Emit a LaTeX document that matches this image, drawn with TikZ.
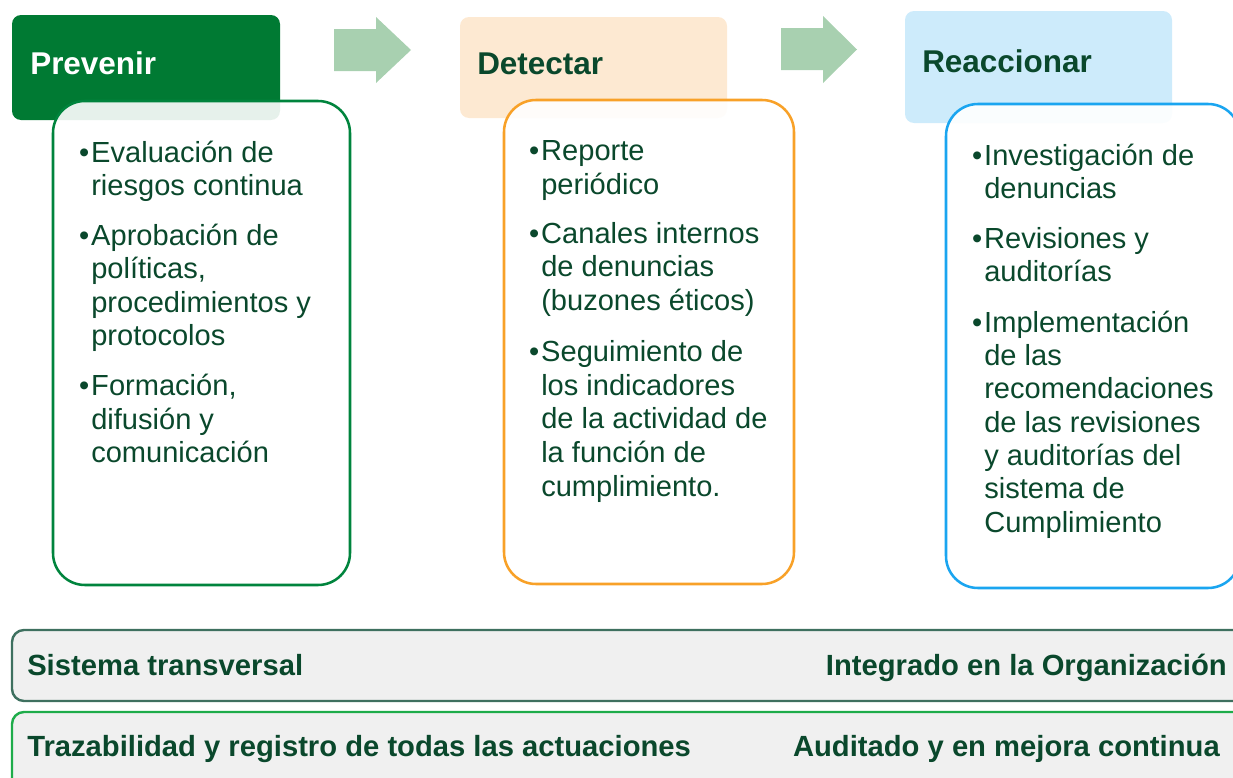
\documentclass[tikz,border=0pt]{standalone}
\usepackage{fontspec}
\setmainfont{Liberation Sans}
\definecolor{hgreen}{RGB}{0,122,51}
\definecolor{bgreen}{RGB}{0,132,61}
\definecolor{arrowc}{RGB}{168,208,176}
\definecolor{peach}{RGB}{253,233,210}
\definecolor{orangeb}{RGB}{248,161,40}
\definecolor{lblue}{RGB}{205,235,251}
\definecolor{blueb}{RGB}{26,165,240}
\definecolor{txt}{RGB}{10,72,44}
\definecolor{bar1b}{RGB}{62,112,95}
\definecolor{bar2b}{RGB}{30,172,74}
\definecolor{barfill}{RGB}{240,240,240}
\begin{document}
\begin{tikzpicture}[x=0.75pt,y=-0.75pt,
  hdr/.style={rectangle,rounded corners=6.75pt,inner sep=0pt,draw=none},
  cbox/.style={rectangle,rounded corners=24pt,inner sep=0pt,line width=1.9pt,fill=white,fill opacity=0.9,minimum height=363pt},
  bar/.style={rectangle,rounded corners=9pt,inner sep=0pt,line width=1.8pt,fill=barfill,minimum width=928.5pt},
  title/.style={anchor=base west,inner sep=0pt,font=\fontsize{23.6pt}{28pt}\selectfont\bfseries},
  item/.style={anchor=base west,inner sep=0pt,align=left,text=txt,font=\fontsize{21.8pt}{25pt}\selectfont},
  itemd/.style={item,font=\fontsize{21.8pt}{25.2pt}\selectfont},
  bartext/.style={anchor=base west,inner sep=0pt,text=txt,font=\fontsize{21.9pt}{26pt}\selectfont\bfseries},
  blockarrow/.style={fill=arrowc,draw=none}]
\useasboundingbox (0,0) rectangle (1233,778);
\clip (0,0) rectangle (1233,778);

% headers
\node[hdr,fill=hgreen,minimum width=201pt,minimum height=78.75pt] (h1) at (146,67.5) {};
\node[hdr,fill=peach,minimum width=200.25pt,minimum height=75.75pt] (h2) at (593.5,67.5) {};
\node[hdr,fill=lblue,minimum width=200.25pt,minimum height=84pt] (h3) at (1038.5,67) {};

\node[title,text=white] (t1) at (30,74) {Prevenir};
\node[title,text=txt] (t2) at (477,74) {Detectar};
\node[title,text=txt] (t3) at (922,72) {Reaccionar};

% arrows
\fill[blockarrow] (334,29) -- (376,29) -- (376,17) -- (411,50) -- (376,83) -- (376,71) -- (334,71) -- cycle;
\fill[blockarrow] (781,28) -- (823,28) -- (823,16) -- (857,49.5) -- (823,83) -- (823,70) -- (781,70) -- cycle;

% content boxes
\node[cbox,draw=bgreen,minimum width=222.75pt] (b1) at (201.5,343) {};
\node[cbox,draw=orangeb,minimum width=217.5pt] (b2) at (649,342) {};
\node[cbox,draw=blueb,minimum width=220.5pt] (b3) at (1093,346) {};

\newcommand{\bul}{\llap{\textbullet\hspace{1.5pt}}}
% Prevenir items (placed at the baseline of their last line)
\node[item] (p1) at (91,195.5) {\bul Evaluación de\\riesgos continua};
\node[item] (p2) at (91,345.5) {\bul Aprobación de\\políticas,\\procedimientos y\\protocolos};
\node[item] (p3) at (91,462.5) {\bul Formación,\\difusión y\\comunicación};

% Detectar items
\node[itemd] (d1) at (541,194.5) {\bul Reporte\\periódico};
\node[itemd] (d2) at (541,310.5) {\bul Canales internos\\de denuncias\\(buzones éticos)};
\node[itemd] (d3) at (541,496) {\bul Seguimiento de\\los indicadores\\de la actividad de\\la función de\\cumplimiento.};

% Reaccionar items
\node[item] (r1) at (984,198.5) {\bul Investigación de\\denuncias};
\node[item] (r2) at (984,281.5) {\bul Revisiones y\\auditorías};
\node[item] (r3) at (984,532) {\bul Implementación\\de las\\recomendaciones\\de las revisiones\\y auditorías del\\sistema de\\Cumplimiento};

% bottom bars
\node[bar,draw=bar1b,minimum height=53.25pt] (bar1) at (631,665.5) {};
\node[bar,draw=bar2b,minimum height=58.5pt] (bar2) at (631,751) {};

\node[bartext] (s1) at (27,675) {Sistema transversal};
\node[bartext,anchor=base east] (s2) at (1227,675) {Integrado en la Organización};
\node[bartext] (s3) at (27,756) {Trazabilidad y registro de todas las actuaciones};
\node[bartext,anchor=base east] (s4) at (1220,756) {Auditado y en mejora continua};
\end{tikzpicture}
\end{document}
